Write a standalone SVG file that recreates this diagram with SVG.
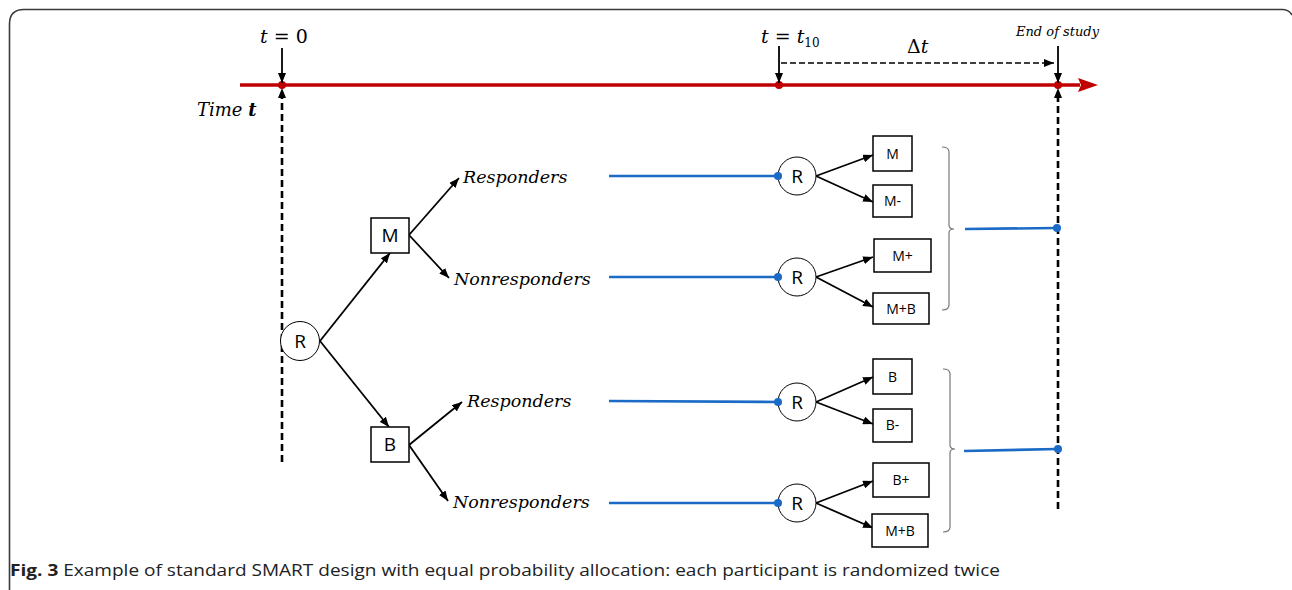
<svg xmlns="http://www.w3.org/2000/svg" width="1292" height="590" viewBox="0 0 1292 590">
  <defs>
    <style>
      .frame { fill: none; stroke: #3a3a3a; stroke-width: 1.6; }
      .axis { stroke: #c00000; stroke-width: 3.5; fill: none; }
      .tick { fill: #c00000; }
      .arr { stroke: #000; stroke-width: 1.8; fill: none; marker-end: url(#ah); }
      .dash { stroke: #000; stroke-width: 2.6; fill: none; stroke-dasharray: 7 4; }
      .dash-thin { stroke: #000; stroke-width: 1.6; fill: none; stroke-dasharray: 6 3; marker-end: url(#ah); }
      .blue { stroke: #1a6ac6; stroke-width: 2.6; fill: none; }
      .dot { fill: #1a6ac6; }
      .box { fill: #fff; stroke: #000; stroke-width: 1.5; }
      .circ { fill: #fff; stroke: #000; stroke-width: 1; }
      .brk { fill: none; stroke: #777; stroke-width: 1.2; }
      .math { font-family: "DejaVu Serif", "Liberation Serif", serif; font-style: italic; fill: #000; }
      .lbl { font-family: "Open Sans", "Noto Sans", sans-serif; fill: #000; text-anchor: middle; }
      .cap { font-family: "Open Sans", "Noto Sans", sans-serif; fill: #222; font-size: 16.5px; }
    </style>
    <marker id="ah" viewBox="0 0 10 8" refX="10" refY="4" markerWidth="10" markerHeight="8" markerUnits="userSpaceOnUse" orient="auto">
      <path d="M0,0 L10,4 L0,8 Z" fill="#000"/>
    </marker>
    <marker id="ahr" viewBox="0 0 20 14" refX="2" refY="7" markerWidth="20" markerHeight="14" markerUnits="userSpaceOnUse" orient="auto">
      <path d="M0,0 L20,7 L0,14 L3,7 Z" fill="#c00000"/>
    </marker>
  </defs>

  <!-- figure frame -->
  <path class="frame" d="M9.5,590 V24 Q9.5,9.5 24,9.5 H1282 Q1289,9.5 1292,15"/>

  <!-- time axis -->
  <g id="timeline">
    <line class="axis" x1="240" y1="85" x2="1080" y2="85" marker-end="url(#ahr)"/>
    <circle class="tick" cx="282" cy="85" r="4"/>
    <circle class="tick" cx="779" cy="85" r="4"/>
    <circle class="tick" cx="1058" cy="85" r="4"/>
    <text class="math" x="197" y="116" font-size="18">Time <tspan font-weight="bold">t</tspan></text>
    <text class="math" x="260" y="43" font-size="19">t<tspan font-style="normal"> = 0</tspan></text>
    <text class="math" x="761" y="43" font-size="19">t<tspan font-style="normal"> = </tspan>t<tspan font-style="normal" font-size="12" dy="4">10</tspan></text>
    <text class="math" x="907" y="53" font-size="19"><tspan font-style="normal">Δ</tspan>t</text>
    <text class="math" x="1016" y="36" font-size="13">End of study</text>
  </g>

  <!-- connectors -->
  <g id="connectors">
    <!-- time markers -->
    <line class="arr" x1="282" y1="48" x2="282" y2="83"/>
    <line class="arr" x1="779" y1="46" x2="779" y2="83"/>
    <line class="arr" x1="1058" y1="46" x2="1058" y2="83"/>
    <line class="dash-thin" x1="781" y1="63" x2="1054" y2="63"/>
    <line class="dash" x1="282" y1="462" x2="282" y2="98"/>
    <line class="arr" x1="282" y1="100" x2="282" y2="88" style="stroke-width:0"/>
    <line class="dash" x1="1058" y1="509" x2="1058" y2="98"/>
    <line class="arr" x1="1058" y1="100" x2="1058" y2="88" style="stroke-width:0"/>

    <!-- first randomization -->
    <line class="arr" x1="320" y1="341" x2="390" y2="253"/>
    <line class="arr" x1="320" y1="341" x2="389" y2="427"/>
    <line class="arr" x1="409" y1="235" x2="459" y2="178"/>
    <line class="arr" x1="409" y1="235" x2="449" y2="278"/>
    <line class="arr" x1="409" y1="445" x2="462" y2="402"/>
    <line class="arr" x1="409" y1="445" x2="448" y2="501"/>

    <!-- follow-up to second randomization -->
    <line class="blue" x1="609" y1="176" x2="778" y2="176"/>
    <line class="blue" x1="609" y1="277" x2="778" y2="277"/>
    <line class="blue" x1="609" y1="401" x2="778" y2="402"/>
    <line class="blue" x1="609" y1="503" x2="778" y2="503"/>

    <!-- second randomization -->
    <line class="arr" x1="816" y1="176" x2="873" y2="155"/>
    <line class="arr" x1="816" y1="176" x2="873" y2="202"/>
    <line class="arr" x1="816" y1="277" x2="873" y2="257"/>
    <line class="arr" x1="816" y1="277" x2="873" y2="307"/>
    <line class="arr" x1="816" y1="402" x2="873" y2="377"/>
    <line class="arr" x1="816" y1="402" x2="873" y2="424"/>
    <line class="arr" x1="816" y1="503" x2="873" y2="481"/>
    <line class="arr" x1="816" y1="503" x2="873" y2="528"/>

    <!-- brackets to end of study -->
    <path class="brk" d="M942,147 Q949,147 949,152 V225 Q949,229 954,229 Q949,229 949,233 V305 Q949,310 942,310"/>
    <path class="brk" d="M943,369 Q950,369 950,374 V445 Q950,449 955,449 Q950,449 950,453 V527 Q950,532 943,532"/>
    <line class="blue" x1="965" y1="229" x2="1057" y2="228"/>
    <line class="blue" x1="964" y1="451" x2="1057" y2="449"/>
    <circle class="dot" cx="1057" cy="228" r="4"/>
    <circle class="dot" cx="1058" cy="449" r="4"/>
  </g>

  <!-- first stage -->
  <g id="r0">
    <circle class="circ" cx="300" cy="341" r="19.5"/>
    <text class="lbl" x="300" y="348" font-size="19">R</text>
  </g>
  <g id="m1">
    <rect class="box" x="371" y="218" width="38" height="35"/>
    <text class="lbl" x="390" y="242" font-size="19">M</text>
  </g>
  <g id="b1">
    <rect class="box" x="371" y="427" width="38" height="35"/>
    <text class="lbl" x="390" y="451" font-size="19">B</text>
  </g>
  <g id="m-resp"><text class="math" x="463" y="183" font-size="17.5">Responders</text></g>
  <g id="m-nonresp"><text class="math" x="454" y="285" font-size="17.5">Nonresponders</text></g>
  <g id="b-resp"><text class="math" x="467" y="407" font-size="17.5">Responders</text></g>
  <g id="b-nonresp"><text class="math" x="453" y="508" font-size="17.5">Nonresponders</text></g>

  <!-- second stage randomizations -->
  <g id="r1">
    <circle class="circ" cx="797" cy="176" r="19"/>
    <text class="lbl" x="797" y="183" font-size="19">R</text>
  </g>
  <g id="r2">
    <circle class="circ" cx="797" cy="277" r="19"/>
    <text class="lbl" x="797" y="284" font-size="19">R</text>
  </g>
  <g id="r3">
    <circle class="circ" cx="797" cy="402" r="19"/>
    <text class="lbl" x="797" y="409" font-size="19">R</text>
  </g>
  <g id="r4">
    <circle class="circ" cx="797" cy="503" r="19"/>
    <text class="lbl" x="797" y="510" font-size="19">R</text>
  </g>

  <!-- entry points where each follow-up line meets its randomization -->
  <g id="entry-dots">
    <circle class="dot" cx="778" cy="176" r="4"/>
    <circle class="dot" cx="778" cy="277" r="4"/>
    <circle class="dot" cx="778" cy="402" r="4"/>
    <circle class="dot" cx="778" cy="503" r="4"/>
  </g>

  <!-- second stage treatments -->
  <g id="t-m">
    <rect class="box" x="873" y="136" width="39" height="35"/>
    <text class="lbl" x="892.5" y="159" font-size="14">M</text>
  </g>
  <g id="t-m-minus">
    <rect class="box" x="873" y="185" width="39" height="32"/>
    <text class="lbl" x="892.5" y="206" font-size="14">M-</text>
  </g>
  <g id="t-m-plus">
    <rect class="box" x="874" y="239" width="57" height="33"/>
    <text class="lbl" x="902.5" y="261" font-size="14">M+</text>
  </g>
  <g id="t-mb-1">
    <rect class="box" x="873" y="293" width="56" height="31"/>
    <text class="lbl" x="901" y="314" font-size="14">M+B</text>
  </g>
  <g id="t-b">
    <rect class="box" x="873" y="359" width="39" height="35"/>
    <text class="lbl" x="892.5" y="382" font-size="14">B</text>
  </g>
  <g id="t-b-minus">
    <rect class="box" x="873" y="409" width="39" height="33"/>
    <text class="lbl" x="892.5" y="430" font-size="14">B-</text>
  </g>
  <g id="t-b-plus">
    <rect class="box" x="873" y="463" width="56" height="34"/>
    <text class="lbl" x="901" y="485" font-size="14">B+</text>
  </g>
  <g id="t-mb-2">
    <rect class="box" x="872" y="514" width="56" height="33"/>
    <text class="lbl" x="900" y="536" font-size="14">M+B</text>
  </g>

  <!-- caption -->
  <text class="cap" x="10" y="576" textLength="990" lengthAdjust="spacingAndGlyphs"><tspan font-weight="bold">Fig. 3</tspan> Example of standard SMART design with equal probability allocation: each participant is randomized twice</text>
</svg>
